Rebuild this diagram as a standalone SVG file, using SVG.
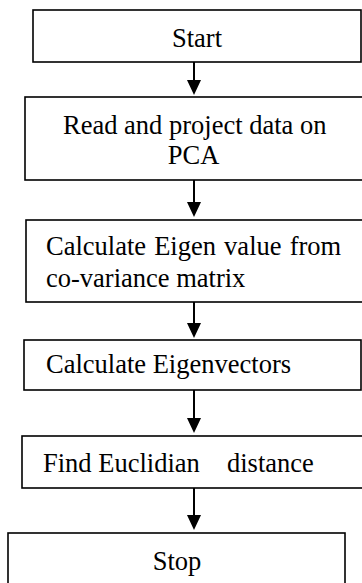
<svg xmlns="http://www.w3.org/2000/svg" width="362" height="583" viewBox="0 0 362 583">
<style>
.box{fill:#fff;stroke:#000;stroke-width:1.6}
.t{font-family:"Liberation Serif","Times New Roman",serif;font-size:26.5px;fill:#000}
.c{text-anchor:middle}
.sh{stroke:#000;stroke-width:2;fill:none}
.hd{fill:#000;stroke:none}
</style>
<rect width="362" height="583" fill="#fff"/>
<g id="start"><rect class="box" x="33" y="10" width="328" height="52"/><text class="t c" x="197" y="47">Start</text></g>
<g id="read"><rect class="box" x="25" y="97" width="345" height="83"/><text class="t" x="63" y="134">Read and project data on</text><text class="t c" x="193.5" y="163.6">PCA</text></g>
<g id="eigenvalue"><rect class="box" x="26" y="220" width="345" height="82"/><text class="t" x="46" y="255" word-spacing="1.5">Calculate Eigen value from</text><text class="t" x="46" y="287">co-variance matrix</text></g>
<g id="eigenvectors"><rect class="box" x="24" y="340" width="337" height="50"/><text class="t" x="46" y="373">Calculate Eigenvectors</text></g>
<g id="euclid"><rect class="box" x="22" y="436" width="350" height="52"/><text class="t" x="43" y="472">Find Euclidian<tspan x="227">distance</tspan></text></g>
<g id="stop"><rect class="box" x="8" y="533" width="337" height="60"/><text class="t c" x="177" y="570">Stop</text></g>
<g id="connectors">
<line class="sh" x1="194" y1="62" x2="194" y2="82"/><polygon class="hd" points="187,80 201,80 194,95"/>
<line class="sh" x1="194" y1="180" x2="194" y2="204"/><polygon class="hd" points="187,202 201,202 194,217"/>
<line class="sh" x1="194" y1="302" x2="194" y2="325"/><polygon class="hd" points="187,323 201,323 194,338"/>
<line class="sh" x1="194" y1="390" x2="194" y2="420"/><polygon class="hd" points="187,418 201,418 194,433"/>
<line class="sh" x1="194" y1="488" x2="194" y2="517"/><polygon class="hd" points="187,515 201,515 194,530"/>
</g>
</svg>
